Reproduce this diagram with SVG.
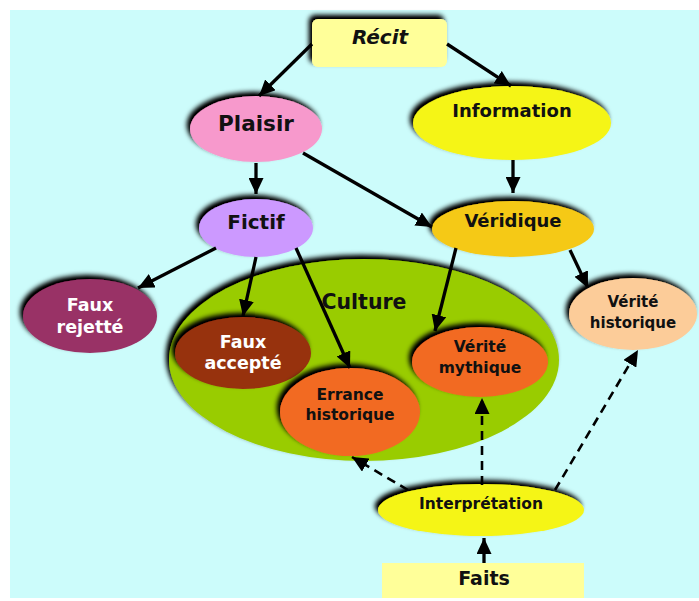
<svg xmlns="http://www.w3.org/2000/svg" width="699" height="601" viewBox="0 0 699 601">
  <defs>
    <filter id="shadow" x="-20%" y="-30%" width="140%" height="160%">
      <feGaussianBlur in="SourceAlpha" stdDeviation="2.6" result="b"/>
      <feOffset in="b" dx="-3" dy="-4" result="o"/>
      <feComponentTransfer in="o" result="s">
        <feFuncA type="linear" slope="1.1"/>
      </feComponentTransfer>
      <feMerge>
        <feMergeNode in="s"/>
        <feMergeNode in="SourceGraphic"/>
      </feMerge>
    </filter>
    <marker id="head" markerUnits="userSpaceOnUse" markerWidth="17" markerHeight="15" refX="16" refY="7.5" orient="auto">
      <path d="M0,0 L16,7.5 L0,15 z" fill="#000"/>
    </marker>
  </defs>
  <style>
    text { font-family: "DejaVu Sans", Verdana, sans-serif; font-weight: bold; text-anchor: middle; dominant-baseline: central; fill: #111; }
    .w { fill: #fff; }
    .node { filter: url(#shadow); }
    .link { stroke: #000; stroke-width: 3.3; fill: none; marker-end: url(#head); }
    .dash { stroke: #000; stroke-width: 2.6; fill: none; stroke-dasharray: 9 6; marker-end: url(#head); }
  </style>

  <rect x="10" y="10" width="689" height="588" fill="#ccfcfb"/>

  <!-- culture zone -->
  <g id="culture">
    <ellipse cx="364" cy="360" rx="195" ry="101" fill="#99cc00" filter="url(#shadow)"/>
    <text x="364" y="302" style="font-size:20.5px">Culture</text>
  </g>

  <g id="recit">
    <rect class="node" x="312" y="19" width="135" height="48" rx="6" fill="#ffff99"/>
    <text x="380" y="37" style="font-size:20px;font-style:italic">Récit</text>
  </g>

  <g id="plaisir">
    <ellipse class="node" cx="256" cy="129" rx="66" ry="33" fill="#f799cc"/>
    <text x="256" y="123" style="font-size:21.5px">Plaisir</text>
  </g>

  <g id="information">
    <ellipse class="node" cx="512" cy="123" rx="99" ry="37" fill="#f5f516"/>
    <text x="512" y="110" style="font-size:18px">Information</text>
  </g>

  <g id="fictif">
    <ellipse class="node" cx="256" cy="228" rx="57" ry="29" fill="#cc99ff"/>
    <text x="256" y="222" style="font-size:20px">Fictif</text>
  </g>

  <g id="veridique">
    <ellipse class="node" cx="513" cy="229" rx="81" ry="28" fill="#f5c918"/>
    <text x="513" y="220" style="font-size:18px">Véridique</text>
  </g>

  <g id="faux-rejette">
    <ellipse class="node" cx="90" cy="316" rx="67" ry="37" fill="#993366"/>
    <text class="w" x="90" y="305" style="font-size:17.5px">Faux</text>
    <text class="w" x="90" y="327" style="font-size:17.5px">rejetté</text>
  </g>

  <g id="faux-accepte">
    <ellipse class="node" cx="243" cy="353" rx="68" ry="36" fill="#973210"/>
    <text class="w" x="243" y="342" style="font-size:17.5px">Faux</text>
    <text class="w" x="243" y="363" style="font-size:17.5px">accepté</text>
  </g>

  <g id="errance">
    <ellipse class="node" cx="350" cy="412" rx="70" ry="44" fill="#f26a21"/>
    <text x="350" y="395" style="font-size:15.5px">Errance</text>
    <text x="350" y="415" style="font-size:15.5px">historique</text>
  </g>

  <g id="verite-mythique">
    <ellipse class="node" cx="480" cy="362" rx="68" ry="35" fill="#f26a21"/>
    <text x="480" y="347" style="font-size:15.5px">Vérité</text>
    <text x="480" y="368" style="font-size:15.5px">mythique</text>
  </g>

  <g id="verite-historique">
    <ellipse class="node" cx="633" cy="314" rx="64" ry="36" fill="#fccc99"/>
    <text x="633" y="302" style="font-size:15px">Vérité</text>
    <text x="633" y="323" style="font-size:15px">historique</text>
  </g>

  <g id="interpretation">
    <ellipse class="node" cx="481" cy="510" rx="103" ry="26" fill="#f5f516"/>
    <text x="481" y="504" style="font-size:15.5px">Interprétation</text>
  </g>

  <g id="faits">
    <rect x="382" y="563" width="202" height="35" fill="#ffff99"/>
    <text x="484" y="578" style="font-size:19px">Faits</text>
  </g>

  <!-- connectors -->
  <g id="connectors">
    <line class="link" x1="312" y1="44" x2="259" y2="96"/>
    <line class="link" x1="447" y1="44" x2="511" y2="86"/>
    <line class="link" x1="256" y1="163" x2="256" y2="194"/>
    <line class="link" x1="513" y1="160" x2="513" y2="193"/>
    <line class="link" x1="303" y1="153" x2="432" y2="227"/>
    <line class="link" x1="216" y1="248" x2="138" y2="288"/>
    <line class="link" x1="256" y1="257" x2="243" y2="316"/>
    <line class="link" x1="296" y1="248" x2="350" y2="368"/>
    <line class="link" x1="456" y1="248" x2="435" y2="331"/>
    <line class="link" x1="570" y1="250" x2="588" y2="288"/>
    <line class="dash" x1="408" y1="490" x2="352" y2="457"/>
    <line class="dash" x1="482" y1="485" x2="482" y2="398"/>
    <line class="dash" x1="555" y1="490" x2="638" y2="350"/>
    <line class="link" x1="484" y1="563" x2="484" y2="538"/>
  </g>
</svg>
